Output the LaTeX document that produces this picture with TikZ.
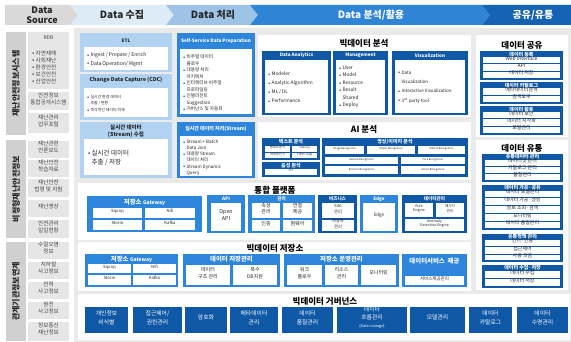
\documentclass[tikz,border=0pt]{standalone}
\usepackage{fontspec}
\setmainfont{Noto Sans CJK KR}
\usetikzlibrary{fit,positioning}

\definecolor{hdgray}{HTML}{D9D9D9}
\definecolor{hdlight}{HTML}{DDEBF7}
\definecolor{hdmid}{HTML}{9DC3E6}
\definecolor{hdblue}{HTML}{2F84D6}
\definecolor{hddark}{HTML}{1763B3}
\definecolor{bggray}{HTML}{EAEAEA}
\definecolor{grpgray}{HTML}{D0D0D0}
\definecolor{itmgray}{HTML}{E6E6E6}
\definecolor{lblue}{HTML}{B1D2F1}
\definecolor{bblue}{HTML}{2E86DC}
\definecolor{dblue}{HTML}{0E58A6}
\definecolor{txtdark}{HTML}{262626}

% box spanned by two corners (pixel coordinates)
\newcommand{\blk}[5]{\node[#2,fit={(#3) (#4)}] (#1) {#5};}
\newcommand{\bu}{\raisebox{0.1ex}{\scalebox{0.6}{$\bullet$}}\hspace{1.2pt}}
\newcommand{\ind}{\hspace*{3.4pt}}

\begin{document}
\begin{tikzpicture}[
		x=1pt,y=-1pt,
		blk/.style={inner sep=0pt,outer sep=0pt,align=center},
		hd/.style={font=\fontsize{10}{10.5}\selectfont\bfseries,align=center,text=txtdark,inner sep=0pt},
		grp/.style={blk,fill=grpgray},
		grptx/.style={rotate=90,font=\fontsize{8}{8}\selectfont\bfseries,text=txtdark,inner sep=0pt},
		itm/.style={blk,fill=itmgray,text=txtdark!85,font=\fontsize{5.6}{7}\selectfont},
		panel/.style={blk,fill=white},
		ptitle/.style={font=\fontsize{8.5}{9}\selectfont\bfseries,text=black,inner sep=0pt},
		lbox/.style={blk,fill=lblue},
		bbox/.style={blk,fill=bblue},
		dbox/.style={blk,fill=dblue},
		wbox/.style={blk,fill=white},
		ttl/.style={font=\fontsize{4.6}{5}\selectfont\bfseries,text=white,inner sep=0pt},
		ttlm/.style={font=\fontsize{5}{5.5}\selectfont\bfseries,text=white,inner sep=0pt},
		ttlb/.style={font=\fontsize{6.4}{7}\selectfont\bfseries,text=white,inner sep=0pt},
		lst/.style={align=left,anchor=west,inner sep=0pt,text=txtdark},
		cell/.style={blk,fill=white,text=txtdark,font=\fontsize{5}{6}\selectfont},
		tcell/.style={cell,font=\fontsize{2.6}{3}\selectfont},
		scell/.style={cell,font=\fontsize{4.2}{5}\selectfont},
		mcell/.style={cell,font=\fontsize{5}{6.5}\selectfont},
		gov/.style={dbox,text=white,font=\fontsize{5.8}{8.5}\selectfont}
		]
		% ===== Canvas =====
		\useasboundingbox (0,0) rectangle (571,342);
		\fill[white] (0,0) rectangle (571,342);
		\fill[bggray] (74,28) rectangle (571,342);
		% ===== Header bands =====
		\fill[hdgray] (5,5) -- (70,5) -- (78,15) -- (70,25) -- (5,25) -- cycle;
		\fill[hdlight] (70,5) -- (166,5) -- (174,15) -- (166,25) -- (70,25) -- (78,15) -- cycle;
		\fill[hdmid] (166,5) -- (250,5) -- (258,15) -- (250,25) -- (166,25) -- (174,15) -- cycle;
		\fill[hdblue] (250,5) -- (482,5) -- (490,15) -- (482,25) -- (250,25) -- (258,15) -- cycle;
		\fill[hddark] (482,5) -- (571,5) -- (571,25) -- (482,25) -- (490,15) -- cycle;
		\node[hd,font=\fontsize{9}{9.5}\selectfont\bfseries] (hsrc) at (42,15) {Data\\Source};
		\node[hd] (hcol) at (122,15) {Data 수집};
		\node[hd] (hpro) at (213,15) {Data 처리};
		\node[hd,text=white] (hana) at (371,15) {Data 분석/활용};
		\node[hd,text=white] (hshr) at (533,15) {공유/유통};
		% ===== Data Source =====
		\blk{grpA}{grp}{6,32}{26,135}{}
		\node[grptx] (grpAt) at (grpA.center) {재난안전정보시스템};
		\blk{grpB}{grp}{6,140}{26,238}{}
		\node[grptx] (grpBt) at (grpB.center) {비정형재난안전정보};
		\blk{grpC}{grp}{6,242}{26,341}{}
		\node[grptx] (grpCt) at (grpC.center) {관계기관정보연계};
		\blk{rdb}{itm}{28,32}{69,89}{}
		\node[itm,fill=none,font=\fontsize{5}{6}\selectfont] (rdbT) at (48.5,38) {RDB};
		\node[lst,text=txtdark!85,font=\fontsize{5.6}{7}\selectfont] (rdbL) at (32,67)
		{\bu 자연재해\\\bu 사회재난\\\bu 환경안전\\\bu 보건안전\\\bu 산업안전};
		\blk{srcA2}{itm}{28,92}{69,110}{안전정보\\통합공개시스템}
		\blk{srcA3}{itm}{28,113}{69,133}{재난관리\\업무포털}
		\blk{srcB1}{itm}{28,141}{69,158}{재난관련\\언론보도}
		\blk{srcB2}{itm}{28,160}{69,177}{재난안전\\학습자료}
		\blk{srcB3}{itm}{28,179}{69,197}{재난안전\\법령 및 지침}
		\blk{srcB4}{itm}{28,200}{69,217}{재난영상}
		\blk{srcB5}{itm}{28,220}{69,238}{안전관리\\일일현황}
		\blk{srcC1}{itm}{28,242}{69,259}{수질오염\\정보}
		\blk{srcC2}{itm}{28,262}{69,279}{지하철\\사고정보}
		\blk{srcC3}{itm}{28,282}{69,299}{전력\\사고정보}
		\blk{srcC4}{itm}{28,302}{69,319}{원전\\사고정보}
		\blk{srcC5}{itm}{28,322}{69,341}{정보통신\\재난정보}
		% ===== Data 수집 =====
		\blk{etl}{lbox}{80,33}{172,72}{}
		\node[ttl,text=txtdark] (etlT) at (126,41) {ETL};
		\blk{etlIn}{wbox}{84,47}{168,70}{}
		\node[lst,font=\fontsize{5}{8.5}\selectfont] (etlL) at (87,59.5)
		{\bu Ingest / Prepare / Enrich\\\bu Data Operation/ Mgmt};
		\blk{cdc}{lbox}{80,74}{172,120}{}
		\node[ttl,text=txtdark,font=\fontsize{5.3}{6}\selectfont\bfseries] (cdcT) at (126,80) {Change Data Capture (CDC)};
		\blk{cdcIn}{wbox}{84,88}{168,117}{}
		\node[lst,font=\fontsize{3.9}{6.5}\selectfont] (cdcL) at (87,103.5)
		{\bu 실시간 변경 데이터\\\ind 추출 / 변환\\\bu 즉각적인 데이터 적재};
		\blk{scol}{lbox}{80,122}{172,178}{}
		\node[ttl,text=txtdark,font=\fontsize{5.5}{7}\selectfont\bfseries,align=center] (scolT) at (126,131.5) {실시간 데이터\\(Stream) 수집};
		\blk{scolIn}{wbox}{84,139}{168,175}{}
		\node[lst,font=\fontsize{6.5}{9}\selectfont] (scolL) at (88,157.5) {\bu 실시간 데이터\\\ind 추출 / 저장};
		% ===== Data 처리 =====
		\blk{ssdp}{bbox}{177,33}{255,117}{}
		\node[ttl,font=\fontsize{4.7}{5}\selectfont\bfseries] (ssdpT) at (216,41) {Self-Service Data Preparation};
		\blk{ssdpIn}{wbox}{180,49}{252,114}{}
		\node[lst,font=\fontsize{4.6}{6.5}\selectfont] (ssdpL) at (183,83)
		{\bu 비주얼 데이터\\\ind 플로우\\\bu 대용량 처리\\\ind 아키텍처\\\bu 인터랙티브 비주얼\\\ind 프로파일링\\\bu 인텔리전트\\\ind Suggestion\\\bu 거버넌스 및 자동화};
		\blk{spro}{bbox}{177,122}{255,178}{}
		\node[ttl,font=\fontsize{5}{5.5}\selectfont\bfseries] (sproT) at (216,128.5) {실시간 데이터 처리(Stream)};
		\blk{sproIn}{wbox}{180,136}{252,176}{}
		\node[lst,font=\fontsize{4.5}{6.2}\selectfont] (sproL) at (183,157.5)
		{\bu Stream + Batch\\\ind Data Join\\\bu 대용량 Stream\\\ind 데이터 처리\\\bu Stream Dynamic\\\ind Query};
		% ===== 빅데이터 분석 =====
		\blk{pana}{panel}{258,35}{471,117}{}
		\node[ptitle] (panaT) at (364,43) {빅데이터 분석};
		\blk{da}{dbox}{262,51}{331,115}{}
		\node[ttl] (daT) at (296.5,55.5) {Data Analytics};
		\blk{daIn}{wbox}{265,60}{328,113}{}
		\node[lst,font=\fontsize{4.8}{9}\selectfont] (daL) at (268,87.5)
		{\bu Modeler\\\bu Analytic Algorithm\\\bu ML / DL\\\bu Performance};
		\blk{mg}{dbox}{333,51}{388,115}{}
		\node[ttl] (mgT) at (360.5,55.5) {Management};
		\blk{mgIn}{wbox}{336,60}{385,113}{}
		\node[lst,font=\fontsize{4.8}{7.5}\selectfont] (mgL) at (339,87)
		{\bu User\\\bu Model\\\bu Resource\\\bu Result\\\ind Shared\\\bu Deploy};
		\blk{vz}{dbox}{392,51}{468,115}{}
		\node[ttl] (vzT) at (430,55.5) {Visualization};
		\blk{vzIn}{wbox}{395,60}{465,113}{}
		\node[lst,font=\fontsize{4.5}{9.3}\selectfont] (vzL) at (398,87)
		{\bu Data\\\ind Visualization\\\bu Interactive Visualization\\\bu 3\textsuperscript{rd} party tool};
		% ===== 데이터 공유 =====
		\blk{pshr}{panel}{476,35}{568,137}{}
		\node[ptitle] (pshrT) at (522,45) {데이터 공유};
		\blk{reg}{dbox}{480,51}{563,80}{}
		\node[ttlm] (regT) at (521.5,54.2) {데이터 등록};
		\blk{reg1}{cell}{483,57}{560,63.5}{Web Interface}
		\blk{reg2}{cell}{483,64.3}{560,70.8}{API}
		\blk{reg3}{cell}{483,71.6}{560,78}{데이터 저장}
		\blk{cat}{dbox}{480,82}{563,104}{}
		\node[ttlm] (catT) at (521.5,85.2) {데이터 카탈로그};
		\blk{cat1}{cell}{483,88}{560,94.8}{메타데이터검색}
		\blk{cat2}{cell}{483,95.6}{560,102}{검색도구}
		\blk{use}{dbox}{480,106}{563,135}{}
		\node[ttlm] (useT) at (521.5,109.2) {데이터 활용};
		\blk{use1}{cell}{483,112}{560,118.5}{데이터 보안}
		\blk{use2}{cell}{483,119.3}{560,125.8}{데이터 시각화}
		\blk{use3}{cell}{483,126.6}{560,133}{포털관리}
		% ===== AI 분석 =====
		\blk{pai}{panel}{258,122}{471,180}{}
		\node[ptitle] (paiT) at (364,129.5) {AI 분석};
		\blk{txa}{dbox}{262,138}{320,160}{}
		\node[ttlm] (txaT) at (291,142) {텍스트 분석};
		\blk{txa1}{tcell,font=\fontsize{3.3}{4}\selectfont}{265,146}{290,152}{형태소분석}
		\blk{txa2}{tcell}{292,146}{317,152}{Indexing}
		\blk{txa3}{tcell,font=\fontsize{3.3}{4}\selectfont}{265,153}{290,158.5}{개체명인식}
		\blk{txa4}{tcell,font=\fontsize{3.3}{4}\selectfont}{292,153}{317,158.5}{키워드추출}
		\blk{voc}{dbox}{262,162}{320,177}{}
		\node[ttlm] (vocT) at (291,165.5) {음성 분석};
		\blk{voc1}{tcell}{265,169}{317,175}{STT}
		\blk{img}{dbox}{322,138}{468,177}{}
		\node[ttlm] (imgT) at (395,142) {영상/이미지 분석};
		\blk{img1}{tcell}{325,146}{364,154}{Image Recognition}
		\blk{img2}{tcell}{367,146}{415,154}{Object Recognition}
		\blk{img3}{tcell}{418,146}{465,154}{Pattern Recognition}
		\blk{img4}{tcell}{325,157}{398,164.5}{Gesture Recognition}
		\blk{img5}{tcell}{401,157}{465,164.5}{Face Recognition}
		\blk{img6}{tcell}{325,166.5}{398,174.5}{Emotion Recognition}
		\blk{img7}{tcell}{401,166.5}{465,174.5}{Action Recognition}
		% ===== 데이터 유통 =====
		\blk{pdst}{panel}{476,140}{568,290}{}
		\node[ptitle] (pdstT) at (522,148) {데이터 유통};
		\blk{dsA}{dbox}{482,154}{563,182}{}
		\node[ttlm] (dsAT) at (522.5,157) {유통데이터 관리};
		\blk{dsA1}{cell}{485,160}{560,166.3}{데이터셋 관리}
		\blk{dsA2}{cell}{485,167}{560,173.3}{카탈로그 관리}
		\blk{dsA3}{cell}{485,174}{560,180.3}{품질관리}
		\blk{dsB}{dbox}{482,185}{563,230}{}
		\node[ttlm] (dsBT) at (522.5,188) {데이터 가공·공유};
		\blk{dsB1}{cell}{485,190.8}{560,197.2}{데이터 모델관리}
		\blk{dsB2}{cell}{485,198.2}{560,205.2}{데이터 가공·생성}
		\blk{dsB3}{cell}{485,206.2}{560,213}{정보 조회·검색}
		\blk{dsB4}{cell}{485,214}{560,220.8}{모니터링}
		\blk{dsB5}{cell}{485,221.8}{560,228.3}{데이터 품질관리}
		\blk{dsC}{dbox}{482,234}{563,262}{}
		\node[ttlm] (dsCT) at (522.5,237) {유통정책 관리};
		\blk{dsC1}{cell}{485,239.8}{560,246.3}{인가·인증}
		\blk{dsC2}{cell}{485,247.2}{560,253.7}{접근제어}
		\blk{dsC3}{cell}{485,254.6}{560,260.5}{사용 과금}
		\blk{dsD}{dbox}{482,265}{563,288}{}
		\node[ttlm] (dsDT) at (522.5,268) {데이터 수집·저장};
		\blk{dsD1}{cell}{485,270.8}{560,278.5}{데이터 수집}
		\blk{dsD2}{cell}{485,279.4}{560,286.3}{데이터 저장}
		% ===== 통합 플랫폼 =====
		\blk{pint}{panel}{78,183}{471,240}{}
		\node[ptitle] (pintT) at (275,190) {통합 플랫폼};
		\blk{gwA}{bbox}{87,196}{202,232}{}
		\node[ttlb] (gwAT) at (144.5,202) {저장소 {\fontsize{5}{5}\selectfont Gateway}};
		\blk{gwA1}{scell}{93,208}{142,218}{Sqoop}
		\blk{gwA2}{scell}{145,208}{195,218}{Nifi}
		\blk{gwA3}{scell}{93,220}{142,230}{Storm}
		\blk{gwA4}{scell}{145,220}{195,230}{Kafka}
		\blk{api}{bbox}{207,195}{245,233}{}
		\node[ttl] (apiT) at (226,198.8) {API};
		\blk{apiIn}{cell,font=\fontsize{5.3}{7.5}\selectfont}{211,203}{241,231}{Open\\API}
		\blk{mng}{bbox}{248,195}{315,233}{}
		\node[ttl] (mngT) at (281.5,198.8) {관리};
		\blk{mng1}{mcell}{252,203}{280,218}{속성\\관리}
		\blk{mng2}{mcell}{283,203}{312,218}{연결\\제공}
		\blk{mng3}{mcell}{252,220}{280,231}{인증}
		\blk{mng4}{mcell}{283,220}{312,231}{펌웨어}
		\blk{biz}{dbox}{318,195}{357,233}{}
		\node[ttl] (bizT) at (337.5,198.8) {비즈니스};
		\blk{biz1}{cell,font=\fontsize{4.3}{5.5}\selectfont}{322,203}{354,218}{Site\\관리}
		\blk{biz2}{cell,font=\fontsize{4.3}{5.5}\selectfont}{322,220}{354,231}{사용자\\관리}
		\blk{edg}{bbox}{360,195}{398,233}{}
		\node[ttl] (edgT) at (379,198.8) {Edge};
		\blk{edgIn}{cell,font=\fontsize{4.5}{5}\selectfont}{363,203}{395,231}{Edge}
		\blk{dmg}{dbox}{402,195}{467,233}{}
		\node[ttl] (dmgT) at (434.5,198.8) {데이터관리};
		\blk{dmg1}{cell,font=\fontsize{3.6}{4.6}\selectfont}{405,203}{433,217}{Rule\\Engine}
		\blk{dmg2}{cell,font=\fontsize{3.6}{4.6}\selectfont}{436,203}{464,217}{메시지\\관리}
		\blk{dmg3}{cell,font=\fontsize{3.6}{4.6}\selectfont}{405,219}{464,231}{Anomaly\\Detection Engine}
		% ===== 빅데이터 저장소 =====
		\blk{psto}{panel}{78,242}{471,291}{}
		\node[ptitle] (pstoT) at (275,248) {빅데이터 저장소};
		\blk{gwB}{bbox}{85,254}{178,287}{}
		\node[ttlb] (gwBT) at (131.5,259) {저장소 {\fontsize{5}{5}\selectfont Gateway}};
		\blk{gwB1}{scell}{88,264}{131,273}{Sqoop}
		\blk{gwB2}{scell}{133,264}{176,273}{Nifi}
		\blk{gwB3}{scell}{88,275}{131,284.5}{Storm}
		\blk{gwB4}{scell}{133,275}{176,284.5}{Kafka}
		\blk{dsm}{bbox}{183,254}{280,287}{}
		\node[ttlb] (dsmT) at (231.5,259.5) {데이터 저장관리};
		\blk{dsm1}{mcell}{186,265}{230,285}{데이터\\구조 관리}
		\blk{dsm2}{mcell}{233,265}{277,285}{복수\\DB지원}
		\blk{sop}{bbox}{284,254}{399,287}{}
		\node[ttlb] (sopT) at (341.5,259.5) {저장소 운영관리};
		\blk{sop1}{mcell}{287,265}{322,285}{워크\\플로우}
		\blk{sop2}{mcell}{325,265}{358,285}{리소스\\관리}
		\blk{sop3}{mcell}{361,265}{396,285}{모니터링}
		\blk{dsv}{bbox}{402,254}{467,287}{}
		\node[ttlb] (dsvT) at (434.5,261) {데이터서비스\ \ 제공};
		\blk{dsv1}{cell,font=\fontsize{4.5}{5}\selectfont}{405,276}{464,285}{서비스제공관리}
		% ===== 빅데이터 거버넌스 =====
		\blk{pgov}{panel}{78,294}{570,340}{}
		\node[ptitle] (pgovT) at (325,301) {빅데이터 거버넌스};
		\blk{gv1}{gov}{85,307}{128,333}{개인정보\\비식별}
		\blk{gv2}{gov}{133,307}{182,333}{접근제어/\\권한관리}
		\blk{gv3}{gov}{185,307}{227,333}{암호화}
		\blk{gv4}{gov}{230,307}{278,333}{메타데이터\\관리}
		\blk{gv5}{gov}{282,307}{333,333}{데이터\\품질관리}
		\blk{gv6}{gov,font=\fontsize{5.8}{8}\selectfont}{337,307}{407,333}{데이터\\흐름관리\\{\fontsize{3.8}{4.5}\selectfont(Data Lineage)}}
		\blk{gv7}{gov}{410,307}{465,333}{모델관리}
		\blk{gv8}{gov}{469,307}{512,333}{데이터\\카탈로그}
		\blk{gv9}{gov}{517,307}{568,333}{데이터\\수명관리}
	\end{tikzpicture}
\end{document}
